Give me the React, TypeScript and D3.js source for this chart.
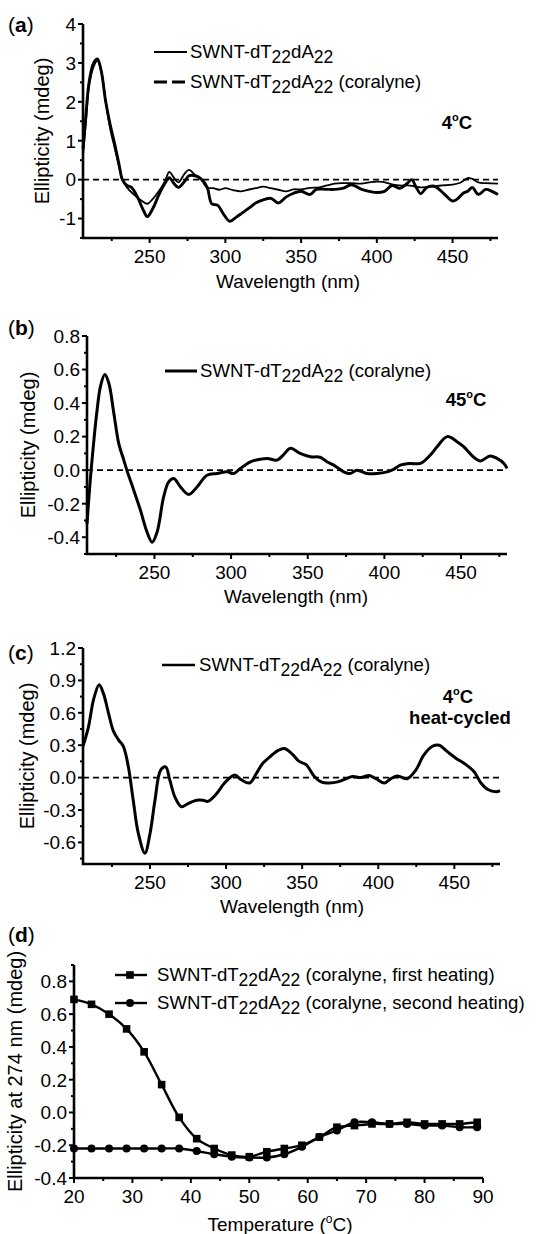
import React from 'react';
import * as d3 from 'd3';

const FONT = "'Liberation Sans', Arial, Helvetica, sans-serif";

// ---------- Panel (a): 4 °C ----------
const wlA1 = [206, 208, 210, 213, 215.5, 218, 221, 224, 227, 230, 232, 235, 240, 245, 248.5, 252, 256, 260, 263, 266, 269, 273, 276, 280, 284, 288, 292, 296, 300, 305, 310, 315, 320, 325, 330, 335, 340, 345, 350, 356, 362, 367, 372, 378, 383, 390, 395, 400, 404, 410, 415, 420, 425, 430, 437, 443, 450, 455, 460, 463, 467, 472, 480];
const cdA1 = [0.6, 1.5, 2.4, 2.9, 3.05, 2.8, 2.0, 1.3, 0.8, 0.3, 0.0, -0.2, -0.4, -0.55, -0.62, -0.5, -0.3, -0.05, 0.2, 0.05, -0.07, 0.15, 0.25, 0.12, 0.0, -0.2, -0.22, -0.26, -0.22, -0.27, -0.3, -0.26, -0.22, -0.18, -0.22, -0.26, -0.3, -0.25, -0.25, -0.21, -0.2, -0.15, -0.1, -0.09, -0.09, -0.1, -0.07, -0.05, -0.06, -0.12, -0.15, -0.15, -0.17, -0.2, -0.17, -0.15, -0.13, -0.08, 0.04, 0.02, -0.07, -0.09, -0.1];
const wlA2 = [206, 208, 210, 213, 215.5, 218, 221, 224, 227, 230, 232, 235, 238, 242, 246, 248.5, 252, 256, 260, 263, 266, 269, 273, 276, 280, 284, 288, 291, 295, 299, 303, 307, 311, 316, 320, 325, 330, 335, 340, 345, 350, 356, 360, 367, 372, 378, 383, 390, 395, 400, 405, 410, 415, 420, 423, 426, 429, 433, 438, 444, 450, 453, 457, 460, 463, 467, 472, 476, 480];
const cdA2 = [0.8, 1.7, 2.5, 3.0, 3.1, 2.8, 2.0, 1.4, 0.9, 0.35, 0.0, -0.15, -0.2, -0.45, -0.8, -0.95, -0.75, -0.4, -0.1, 0.05, -0.1, -0.2, -0.05, 0.1, 0.1, 0.02, -0.2, -0.62, -0.66, -0.9, -1.07, -0.97, -0.86, -0.72, -0.6, -0.52, -0.48, -0.6, -0.45, -0.35, -0.3, -0.38, -0.25, -0.25, -0.25, -0.22, -0.13, -0.25, -0.3, -0.33, -0.3, -0.15, -0.22, -0.1, 0.0, -0.2, -0.36, -0.2, -0.17, -0.35, -0.55, -0.5, -0.35, -0.3, -0.2, -0.38, -0.25, -0.3, -0.38];

// ---------- Panel (b): 45 °C ----------
const wlB = [206, 208.7, 212.6, 214.8, 217.6, 220.2, 223.5, 226.7, 230, 232, 236.5, 240.9, 245.2, 248.5, 251.7, 256, 259.3, 262.6, 267, 272.4, 277.8, 284.3, 290.9, 297.4, 301.7, 306, 312.6, 319, 323.5, 330, 334, 338.7, 345, 351.7, 358, 362.6, 367, 373.5, 377.8, 382, 388.7, 395, 401.7, 406, 410.4, 416.9, 423.5, 430, 434.4, 441, 447.4, 451.7, 458, 462.6, 469, 473.5, 478, 480];
const cdB = [-0.32, 0.0, 0.36, 0.5, 0.57, 0.52, 0.34, 0.16, 0.06, 0.0, -0.12, -0.24, -0.37, -0.43, -0.37, -0.16, -0.07, -0.05, -0.1, -0.145, -0.1, -0.03, -0.02, -0.01, -0.02, 0.01, 0.05, 0.065, 0.07, 0.06, 0.09, 0.13, 0.1, 0.08, 0.077, 0.05, 0.03, -0.01, -0.02, 0.0, -0.02, -0.02, -0.01, 0.005, 0.03, 0.04, 0.04, 0.09, 0.14, 0.2, 0.17, 0.14, 0.08, 0.055, 0.085, 0.07, 0.04, 0.01];

// ---------- Panel (c): 4 °C heat-cycled ----------
const wlC = [206, 209.6, 212.9, 216.6, 219.4, 222.7, 226, 229.3, 232.5, 235.8, 239, 242.4, 246.7, 250, 253.3, 257, 260.3, 263, 266.4, 270.7, 275, 280.6, 285, 288, 293.7, 299, 305.7, 310, 315.5, 320, 324, 328.6, 334, 338.4, 344, 348, 352.6, 358, 362.4, 368, 373.4, 379, 383, 388.6, 394, 398.5, 404, 408.3, 412.7, 419, 424.7, 430, 435.6, 440, 445.4, 451, 457.6, 463, 467.5, 472, 477.5, 480];
const cdC = [0.29, 0.47, 0.72, 0.86, 0.78, 0.6, 0.43, 0.35, 0.29, 0.1, -0.21, -0.52, -0.7, -0.52, -0.21, 0.07, 0.1, -0.02, -0.18, -0.27, -0.24, -0.21, -0.21, -0.22, -0.15, -0.05, 0.025, -0.02, -0.05, 0.04, 0.13, 0.19, 0.25, 0.27, 0.21, 0.15, 0.12, 0.01, -0.04, -0.05, -0.04, -0.01, 0.01, 0.0, 0.02, -0.01, -0.05, -0.01, 0.015, -0.01, 0.07, 0.21, 0.29, 0.3, 0.24, 0.18, 0.12, 0.055, -0.05, -0.11, -0.13, -0.12];

// ---------- Panel (d): melting ----------
const tempD = [20, 23, 26, 29, 32, 35, 38, 41, 44, 47, 50, 53, 56, 59, 62, 65, 68, 71, 74, 77, 80, 83, 86, 89];
const firstHeat = [0.69, 0.66, 0.6, 0.51, 0.37, 0.17, -0.03, -0.16, -0.22, -0.26, -0.27, -0.24, -0.22, -0.2, -0.15, -0.09, -0.08, -0.07, -0.07, -0.06, -0.07, -0.07, -0.07, -0.06];
const secondHeat = [-0.22, -0.22, -0.22, -0.22, -0.22, -0.22, -0.22, -0.235, -0.255, -0.27, -0.275, -0.275, -0.255, -0.21, -0.15, -0.11, -0.06, -0.06, -0.07, -0.07, -0.08, -0.08, -0.09, -0.09];

const wlMajor = [250, 300, 350, 400, 450];
const wlMinor = [225, 275, 325, 375, 425, 475];
const yTicksA = [-1, 0, 1, 2, 3, 4];
const yTicksB = [-0.4, -0.2, 0.0, 0.2, 0.4, 0.6, 0.8];
const yTicksC = [-0.6, -0.3, 0.0, 0.3, 0.6, 0.9, 1.2];
const yTicksD = [-0.4, -0.2, 0.0, 0.2, 0.4, 0.6, 0.8];
const tMajor = [20, 30, 40, 50, 60, 70, 80, 90];
const tMinor = [25, 35, 45, 55, 65, 75, 85];

type AxesProps = {
  x: d3.ScaleLinear<number, number>;
  y: d3.ScaleLinear<number, number>;
  xMajor: number[];
  xMinor: number[];
  yMajor: number[];
  yMinor: number[];
  yDigits: number;
  xTitle: React.ReactNode;
  xTitleX: number;
  xTitleDy: number;
  yTitle: string;
  yTitleX: number;
};

function Axes(p: AxesProps) {
  const [x0, x1] = p.x.range();
  const [yb, yt] = p.y.range();
  return (
    <g>
      <line x1={x0} x2={x0} y1={yt} y2={yb + 1} stroke="#000" strokeWidth={2.6} />
      <line x1={x0 - 1} x2={x1} y1={yb} y2={yb} stroke="#000" strokeWidth={2.6} />
      {p.yMajor.map((v) => (
        <g key={'ym' + v}>
          <line x1={x0 - 5} x2={x0} y1={p.y(v)} y2={p.y(v)} stroke="#000" strokeWidth={2} />
          <text x={x0 - 7} y={p.y(v)} dy="0.36em" textAnchor="end" fontSize={19}>
            {v.toFixed(p.yDigits)}
          </text>
        </g>
      ))}
      {p.yMinor.map((v) => (
        <line key={'yn' + v} x1={x0 - 3} x2={x0} y1={p.y(v)} y2={p.y(v)} stroke="#000" strokeWidth={2} />
      ))}
      {p.xMajor.map((v) => (
        <g key={'xm' + v}>
          <line x1={p.x(v)} x2={p.x(v)} y1={yb} y2={yb + 5} stroke="#000" strokeWidth={2} />
          <text x={p.x(v)} y={yb + 25} textAnchor="middle" fontSize={19}>
            {v}
          </text>
        </g>
      ))}
      {p.xMinor.map((v) => (
        <line key={'xn' + v} x1={p.x(v)} x2={p.x(v)} y1={yb} y2={yb + 3} stroke="#000" strokeWidth={2} />
      ))}
      <text x={p.xTitleX} y={yb + p.xTitleDy} textAnchor="middle" fontSize={19}>
        {p.xTitle}
      </text>
      <text
        transform={`translate(${p.yTitleX},${(yt + yb) / 2}) rotate(-90)`}
        textAnchor="middle"
        dy="0.36em"
        fontSize={20}
      >
        {p.yTitle}
      </text>
    </g>
  );
}

function PanelLabel({ x, y, letter }: { x: number; y: number; letter: string }) {
  return (
    <text x={x} y={y} fontSize={21}>
      (<tspan fontWeight="bold">{letter}</tspan>)
    </text>
  );
}

function Legend({ x, y, suffix }: { x: number; y: number; suffix: string }) {
  return (
    <text x={x} y={y} fontSize={18.6}>
      SWNT-dT<tspan fontSize={17.5} dy={5}>22</tspan>
      <tspan dy={-5}>dA</tspan>
      <tspan fontSize={17.5} dy={5}>22</tspan>
      <tspan dy={-5}>{suffix}</tspan>
    </text>
  );
}

function Degree({ x, y, temp, anchor = 'middle' }: { x: number; y: number; temp: string; anchor?: string }) {
  return (
    <text x={x} y={y} fontSize={18.5} fontWeight="bold" textAnchor={anchor as any}>
      {temp}
      <tspan fontSize={11} dy={-8}>o</tspan>
      <tspan dy={8}>C</tspan>
    </text>
  );
}

function zeroLine(x: d3.ScaleLinear<number, number>, y: d3.ScaleLinear<number, number>) {
  const [x0, x1] = x.range();
  return <line x1={x0} x2={x1} y1={y(0)} y2={y(0)} stroke="#000" strokeWidth={1.6} strokeDasharray="6,4" />;
}

function pathFor(
  xs: number[],
  ys: number[],
  x: d3.ScaleLinear<number, number>,
  y: d3.ScaleLinear<number, number>
) {
  const pts = xs.map((v, i) => [v, ys[i]] as [number, number]);
  return (
    d3
      .line<[number, number]>()
      .x((d) => x(d[0]))
      .y((d) => y(d[1]))
      .curve(d3.curveCatmullRom.alpha(0.5))(pts) || ''
  );
}

export default function App() {
  // Panel a
  const xa = d3.scaleLinear().domain([206, 480]).range([83, 498]);
  const ya = d3.scaleLinear().domain([-1.5, 4]).range([238, 24]);
  // Panel b
  const xb = d3.scaleLinear().domain([206, 480]).range([87, 507]);
  const yb = d3.scaleLinear().domain([-0.5, 0.8]).range([554, 336]);
  // Panel c
  const xc = d3.scaleLinear().domain([206, 480]).range([83, 500]);
  const yc = d3.scaleLinear().domain([-0.8, 1.2]).range([864, 648]);
  // Panel d
  const xd = d3.scaleLinear().domain([20, 90]).range([74, 483]);
  const yd = d3.scaleLinear().domain([-0.4, 0.9]).range([1178, 965]);

  const minorA = d3.range(-1.5, 4.01, 0.5).filter((v) => Math.abs(v - Math.round(v)) > 0.01);
  const minorB = [-0.5, -0.3, -0.1, 0.1, 0.3, 0.5, 0.7];
  const minorC = [-0.75, -0.45, -0.15, 0.15, 0.45, 0.75, 1.05];
  const minorD = [-0.3, -0.1, 0.1, 0.3, 0.5, 0.7, 0.9];

  return (
    <svg
      width={555}
      height={1234}
      style={{ position: 'absolute', left: 0, top: 0, background: '#fff' }}
      fontFamily={FONT}
    >
      <rect width={555} height={1234} fill="#fff" />
      {/* ---------- (a) ---------- */}
      <PanelLabel x={8} y={32} letter="a" />
      {zeroLine(xa, ya)}
      <path d={pathFor(wlA1, cdA1, xa, ya)} fill="none" stroke="#000" strokeWidth={1.8} />
      <path d={pathFor(wlA2, cdA2, xa, ya)} fill="none" stroke="#000" strokeWidth={2.9} />
      <Axes
        x={xa}
        y={ya}
        xMajor={wlMajor}
        xMinor={wlMinor}
        yMajor={yTicksA}
        yMinor={minorA}
        yDigits={0}
        xTitle="Wavelength (nm)"
        xTitleX={288}
        xTitleDy={50}
        yTitle="Ellipticity (mdeg)"
        yTitleX={42}
      />
      <line x1={154} x2={187} y1={52} y2={52} stroke="#000" strokeWidth={2} />
      <Legend x={190} y={58} suffix="" />
      <line x1={154} x2={187} y1={82} y2={82} stroke="#000" strokeWidth={3} strokeDasharray="13,5" />
      <Legend x={190} y={88} suffix=" (coralyne)" />
      <Degree x={457} y={129} temp="4" />

      {/* ---------- (b) ---------- */}
      <PanelLabel x={8} y={335} letter="b" />
      {zeroLine(xb, yb)}
      <path d={pathFor(wlB, cdB, xb, yb)} fill="none" stroke="#000" strokeWidth={3} />
      <Axes
        x={xb}
        y={yb}
        xMajor={wlMajor}
        xMinor={wlMinor}
        yMajor={yTicksB}
        yMinor={minorB}
        yDigits={1}
        xTitle="Wavelength (nm)"
        xTitleX={296}
        xTitleDy={49}
        yTitle="Ellipticity (mdeg)"
        yTitleX={28}
      />
      <line x1={165} x2={197} y1={371} y2={371} stroke="#000" strokeWidth={3} />
      <Legend x={200} y={377} suffix=" (coralyne)" />
      <Degree x={466} y={406} temp="45" />

      {/* ---------- (c) ---------- */}
      <PanelLabel x={8} y={660} letter="c" />
      {zeroLine(xc, yc)}
      <path d={pathFor(wlC, cdC, xc, yc)} fill="none" stroke="#000" strokeWidth={3} />
      <Axes
        x={xc}
        y={yc}
        xMajor={wlMajor}
        xMinor={wlMinor}
        yMajor={yTicksC}
        yMinor={minorC}
        yDigits={1}
        xTitle="Wavelength (nm)"
        xTitleX={292}
        xTitleDy={49}
        yTitle="Ellipticity (mdeg)"
        yTitleX={27}
      />
      <line x1={162} x2={195} y1={665} y2={665} stroke="#000" strokeWidth={2.5} />
      <Legend x={199} y={671} suffix=" (coralyne)" />
      <Degree x={458} y={703} temp="4" />
      <text x={460} y={724} fontSize={18.5} fontWeight="bold" textAnchor="middle">
        heat-cycled
      </text>

      {/* ---------- (d) ---------- */}
      <PanelLabel x={8} y={942} letter="d" />
      <path d={pathFor(tempD, firstHeat, xd, yd)} fill="none" stroke="#000" strokeWidth={2.4} />
      <path d={pathFor(tempD, secondHeat, xd, yd)} fill="none" stroke="#000" strokeWidth={2.4} />
      {tempD.map((t, i) => (
        <rect key={'s' + t} x={xd(t) - 3.8} y={yd(firstHeat[i]) - 3.8} width={7.6} height={7.6} fill="#000" />
      ))}
      {tempD.map((t, i) => (
        <circle key={'c' + t} cx={xd(t)} cy={yd(secondHeat[i])} r={4} fill="#000" />
      ))}
      <Axes
        x={xd}
        y={yd}
        xMajor={tMajor}
        xMinor={tMinor}
        yMajor={yTicksD}
        yMinor={minorD}
        yDigits={1}
        xTitle={
          <>
            Temperature (<tspan fontSize={12} dy={-8}>o</tspan>
            <tspan dy={8}>C)</tspan>
          </>
        }
        xTitleX={280}
        xTitleDy={53}
        yTitle="Ellipticity at 274 nm (mdeg)"
        yTitleX={15}
      />
      <line x1={115} x2={147} y1={975} y2={975} stroke="#000" strokeWidth={2.4} />
      <rect x={130 - 3.8} y={975 - 3.8} width={7.6} height={7.6} fill="#000" />
      <Legend x={157} y={981} suffix=" (coralyne, first heating)" />
      <line x1={115} x2={147} y1={1003} y2={1003} stroke="#000" strokeWidth={2.4} />
      <circle cx={130} cy={1003} r={4} fill="#000" />
      <Legend x={157} y={1009} suffix=" (coralyne, second heating)" />
    </svg>
  );
}
